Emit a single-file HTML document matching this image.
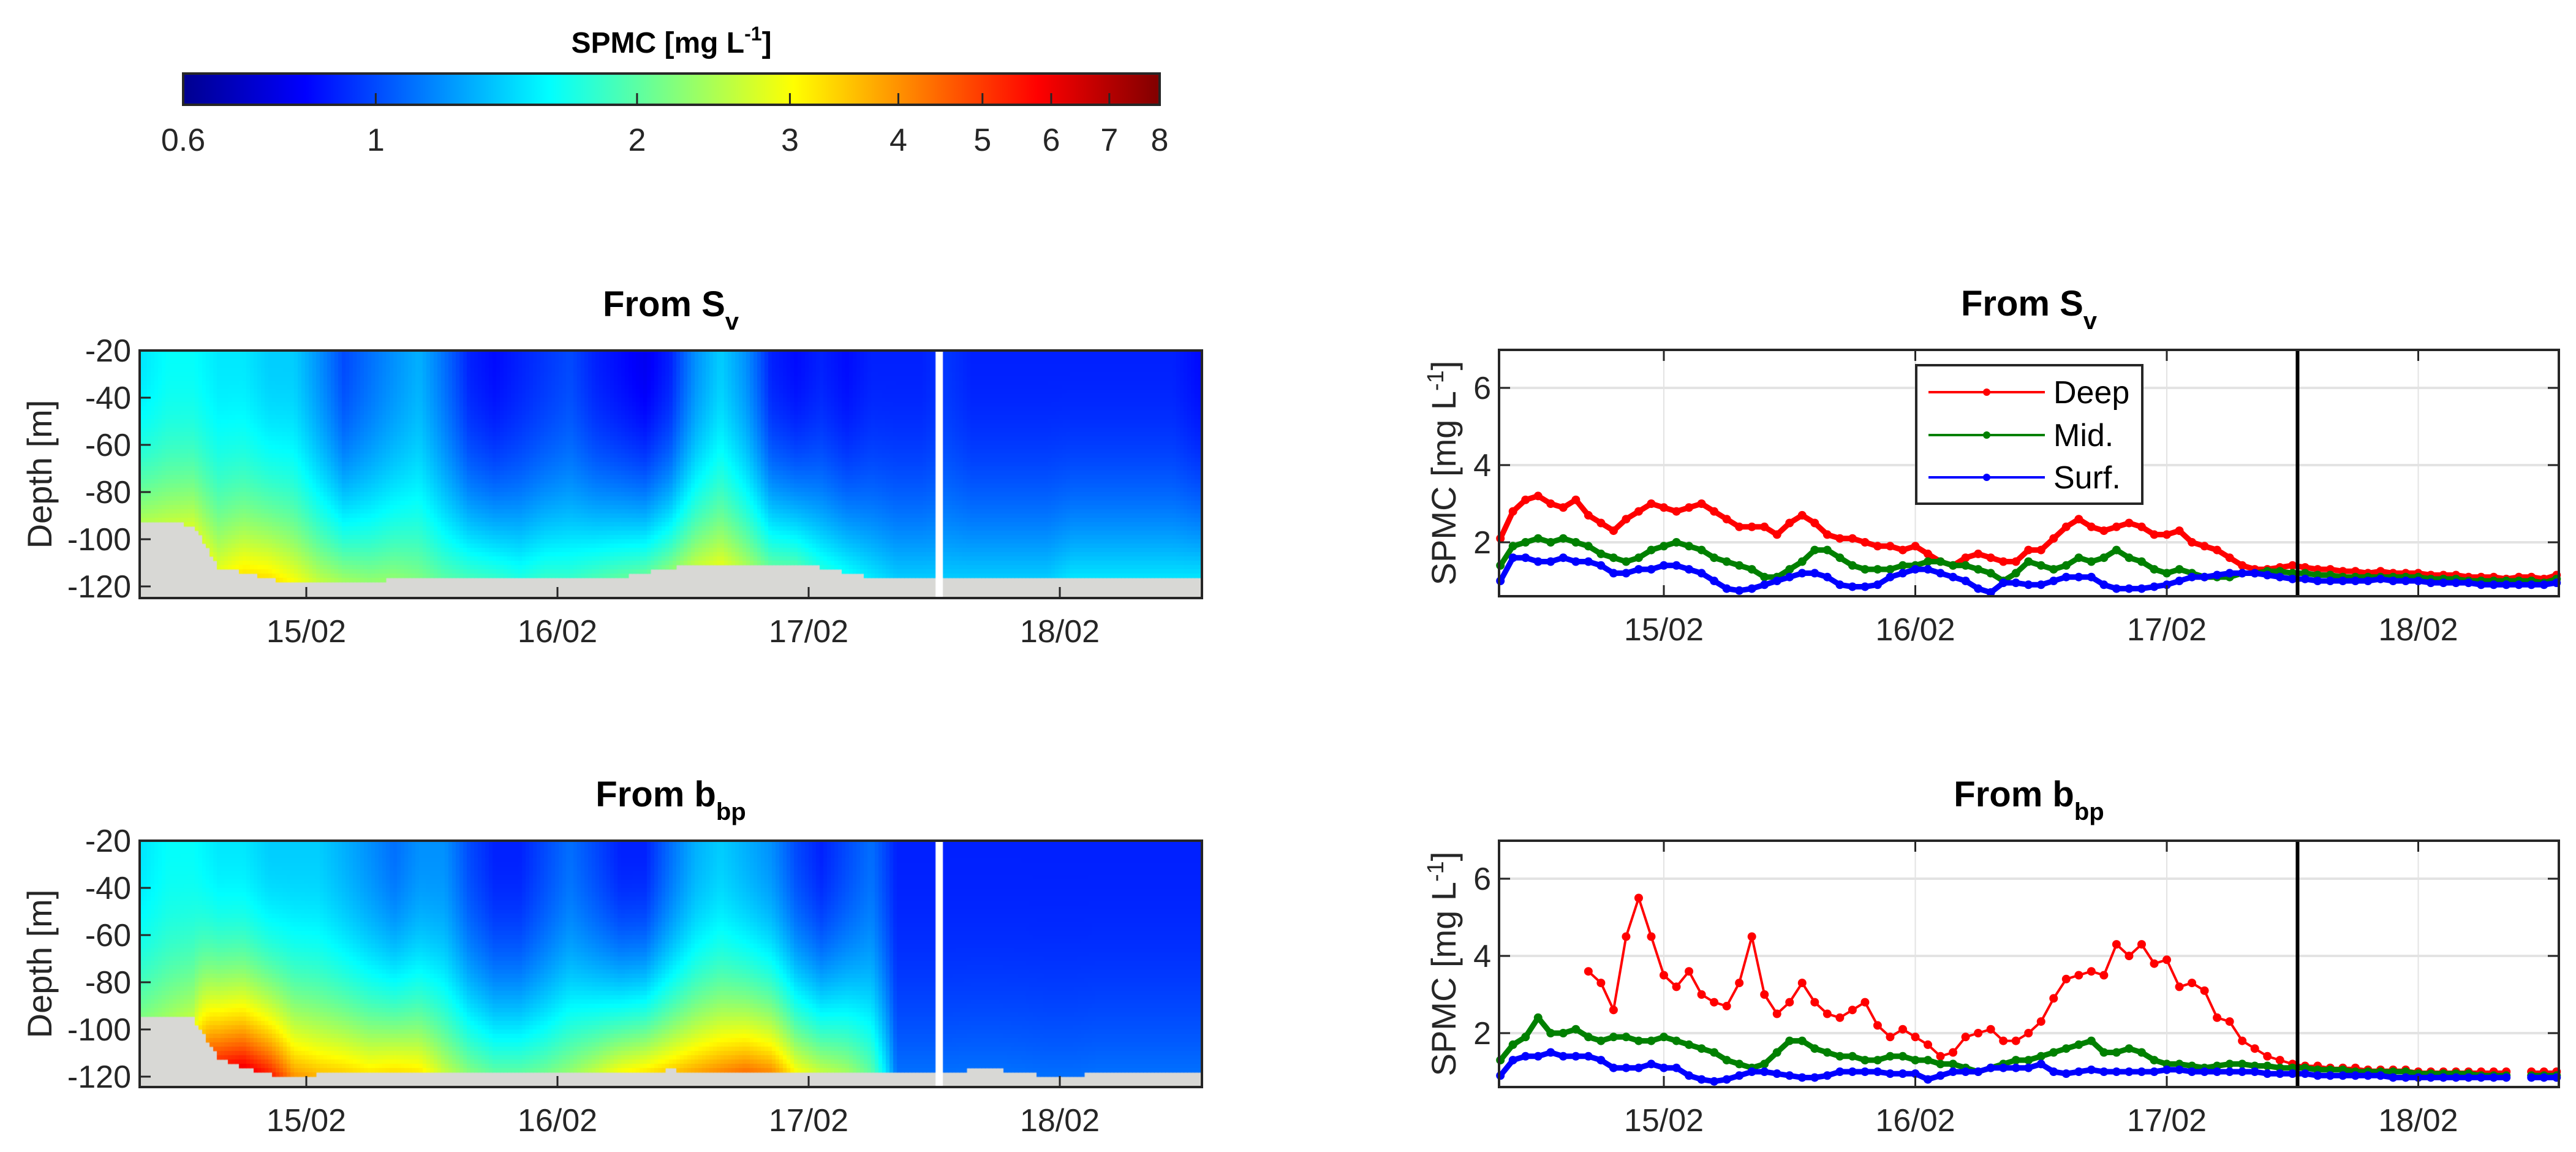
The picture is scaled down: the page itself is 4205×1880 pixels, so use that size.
<!DOCTYPE html>
<html><head><meta charset="utf-8">
<style>
html,body{margin:0;padding:0;background:#fff;}
#wrap{position:relative;width:4205px;height:1880px;overflow:hidden;font-family:"Liberation Sans",Arial,sans-serif;}
canvas{position:absolute;}
svg{position:absolute;left:0;top:0;}
</style></head>
<body>
<div id="wrap">
<canvas id="hm1" width="1734" height="404" style="left:228px;top:572px"></canvas>
<canvas id="hm2" width="1734" height="402" style="left:228px;top:1372px"></canvas>
<svg id="svg" width="4205" height="1880" xmlns="http://www.w3.org/2000/svg">
<defs><linearGradient id="jet" x1="0" x2="1" y1="0" y2="0">
<stop offset="0" stop-color="#00008f"/><stop offset="0.125" stop-color="#0000ff"/><stop offset="0.375" stop-color="#00ffff"/><stop offset="0.625" stop-color="#ffff00"/><stop offset="0.875" stop-color="#ff0000"/><stop offset="1" stop-color="#800000"/></linearGradient></defs>
</svg>
</div>
<script>
// ---------- data ----------
const cbTicks=[0.6,1,2,3,4,5,6,7,8];
const dayTicks=[15,16,17,18];
const dayLabels=["15/02","16/02","17/02","18/02"];
const depthTicks=[-20,-40,-60,-80,-100,-120];
const spmcTicks=[2,4,6];
const lineT0=14.35, lineDt=0.05;
const svDeep=[2.1,2.8,3.1,3.2,3.0,2.9,3.1,2.7,2.5,2.3,2.6,2.8,3.0,2.9,2.8,2.9,3.0,2.8,2.6,2.4,2.4,2.4,2.2,2.5,2.7,2.5,2.2,2.1,2.1,2.0,1.9,1.9,1.8,1.9,1.7,1.5,1.4,1.6,1.7,1.6,1.5,1.5,1.8,1.8,2.1,2.4,2.6,2.4,2.3,2.4,2.5,2.4,2.2,2.2,2.3,2.0,1.9,1.8,1.6,1.4,1.3,1.3,1.35,1.4,1.35,1.3,1.3,1.25,1.25,1.2,1.25,1.2,1.2,1.2,1.15,1.15,1.15,1.1,1.1,1.1,1.05,1.1,1.1,1.05,1.15];
const svMid=[1.4,1.9,2.0,2.1,2.0,2.1,2.0,1.9,1.7,1.6,1.5,1.6,1.8,1.9,2.0,1.9,1.8,1.6,1.5,1.4,1.3,1.1,1.1,1.3,1.5,1.8,1.8,1.6,1.4,1.3,1.3,1.3,1.4,1.4,1.5,1.5,1.4,1.4,1.3,1.2,1.0,1.2,1.5,1.4,1.3,1.4,1.6,1.5,1.6,1.8,1.6,1.5,1.3,1.2,1.3,1.2,1.1,1.1,1.1,1.2,1.2,1.25,1.25,1.2,1.2,1.15,1.15,1.1,1.1,1.1,1.1,1.1,1.1,1.1,1.05,1.05,1.05,1.0,1.0,1.0,1.0,1.0,1.0,0.95,1.05];
const svSurf=[1.0,1.6,1.6,1.5,1.5,1.6,1.5,1.5,1.4,1.2,1.2,1.3,1.3,1.4,1.4,1.3,1.2,1.0,0.8,0.75,0.8,0.9,1.0,1.1,1.2,1.2,1.1,0.9,0.85,0.85,0.9,1.1,1.2,1.3,1.3,1.2,1.1,1.0,0.8,0.7,0.95,0.95,0.9,0.9,1.0,1.1,1.1,1.1,0.9,0.8,0.8,0.8,0.85,0.9,1.0,1.1,1.1,1.15,1.2,1.2,1.2,1.15,1.1,1.05,1.05,1.0,1.0,1.0,1.0,1.0,1.05,1.0,1.0,1.0,0.95,0.95,0.95,0.95,0.9,0.9,0.9,0.9,0.9,0.9,0.95];
const bbpDeep=[null,null,null,null,null,null,null,3.6,3.3,2.6,4.5,5.5,4.5,3.5,3.2,3.6,3.0,2.8,2.7,3.3,4.5,3.0,2.5,2.8,3.3,2.8,2.5,2.4,2.6,2.8,2.2,1.9,2.1,1.9,1.7,1.4,1.5,1.9,2.0,2.1,1.8,1.8,2.0,2.3,2.9,3.4,3.5,3.6,3.5,4.3,4.0,4.3,3.8,3.9,3.2,3.3,3.1,2.4,2.3,1.8,1.6,1.4,1.3,1.2,1.15,1.15,1.1,1.1,1.1,1.05,1.05,1.05,1.05,1.0,1.0,1.0,1.0,1.0,1.0,1.0,1.0,null,1.0,1.0,1.0];
const bbpMid=[1.3,1.7,1.9,2.4,2.0,2.0,2.1,1.9,1.8,1.9,1.9,1.8,1.8,1.9,1.8,1.7,1.6,1.5,1.3,1.2,1.1,1.2,1.5,1.8,1.8,1.6,1.5,1.4,1.4,1.3,1.3,1.4,1.4,1.3,1.3,1.2,1.2,1.1,1.0,1.1,1.2,1.3,1.3,1.4,1.5,1.6,1.7,1.8,1.5,1.5,1.6,1.5,1.3,1.2,1.2,1.15,1.1,1.15,1.2,1.2,1.15,1.15,1.1,1.1,1.1,1.05,1.05,1.05,1.0,1.0,1.0,1.0,1.0,0.95,0.95,0.95,0.95,0.95,0.9,0.9,0.9,null,0.9,0.9,0.9];
const bbpSurf=[0.9,1.3,1.4,1.4,1.5,1.4,1.4,1.4,1.3,1.1,1.1,1.1,1.2,1.1,1.1,0.9,0.8,0.75,0.8,0.9,1.0,1.0,0.95,0.9,0.85,0.85,0.9,1.0,1.0,1.0,1.0,0.95,0.95,0.95,0.8,0.9,1.0,1.0,1.0,1.1,1.1,1.1,1.1,1.2,1.0,0.95,1.0,1.05,1.0,1.0,1.0,1.0,1.0,1.05,1.05,1.0,1.0,1.0,1.0,1.0,1.0,0.95,0.95,0.95,0.95,0.9,0.9,0.9,0.9,0.9,0.9,0.85,0.85,0.85,0.85,0.85,0.85,0.85,0.85,0.85,0.85,null,0.85,0.85,0.85];
// heatmap column data (every 0.1 day from 14.35)
const hmT0=14.35, hmDt=0.1;
const svTop=[1.5,1.6,1.6,1.5,1.5,1.4,1.4,1.2,1.0,1.1,1.2,1.3,1.1,0.9,0.85,0.9,0.95,1.0,0.9,0.85,0.8,0.9,1.2,1.4,1.2,0.9,0.85,0.9,0.85,0.9,0.9,0.9,0.95,0.9,0.9,0.9,0.9,0.9,0.9,0.9,0.9,0.9,0.85];
const svBot=[2.5,2.6,2.7,2.8,3.2,3.3,3.0,2.6,2.4,2.3,2.3,2.2,2.0,1.9,1.8,1.7,1.8,1.8,1.9,2.0,2.0,2.2,2.6,2.8,2.4,2.0,1.9,1.7,1.6,1.5,1.4,1.4,1.4,1.4,1.4,1.4,1.4,1.5,1.5,1.5,1.5,1.5,1.5];
const svBed=[-93,-93,-94,-112,-114,-117,-118,-118,-118,-118,-117,-117,-117,-117,-116,-116,-116,-116,-116,-116,-114,-112,-111,-110,-110,-111,-110,-112,-114,-116,-117,-117,-117,-117,-117,-117,-117,-117,-117,-117,-117,-117,-117];
const bbpTop=[1.5,1.6,1.6,1.5,1.5,1.4,1.4,1.4,1.3,1.2,1.1,1.2,1.2,1.0,0.9,0.9,1.0,1.1,1.0,0.9,0.9,1.1,1.3,1.4,1.3,1.2,1.0,0.9,1.0,1.1,0.9,0.9,0.9,0.9,0.9,0.9,0.9,0.9,0.9,0.9,0.9,0.9,0.9];
const bbpBot=[2.2,2.4,2.6,5.0,6.0,5.5,4.0,3.6,3.4,3.2,3.3,3.2,2.6,2.2,2.0,2.0,2.1,2.3,2.6,3.0,3.2,3.4,3.8,4.2,4.5,4.2,3.0,2.6,2.4,2.0,1.1,1.1,1.1,1.1,1.1,1.1,1.1,1.1,1.1,1.1,1.1,1.1,1.1];
const bbpBed=[-95,-95,-95,-112,-116,-119,-120,-119,-118,-118,-118,-118,-118,-118,-118,-118,-118,-118,-118,-118,-118,-117,-118,-119,-119,-119,-118,-118,-118,-118,-118,-118,-118,-117,-117,-118,-120,-120,-118,-118,-118,-118,-118];
const gapDay=17.52;

// ---------- helpers ----------
const NS="http://www.w3.org/2000/svg";
const svg=document.getElementById('svg');
const TF=52, TTL=58;
function mk(tag,attrs,parent){const e=document.createElementNS(NS,tag);for(const k in attrs)e.setAttribute(k,attrs[k]);(parent||svg).appendChild(e);return e;}
function jet(f){f=Math.max(0,Math.min(1,f));const r=Math.max(0,Math.min(1,1.5-Math.abs(4*f-3))),g=Math.max(0,Math.min(1,1.5-Math.abs(4*f-2))),b=Math.max(0,Math.min(1,1.5-Math.abs(4*f-1)));return `rgb(${Math.round(r*255)},${Math.round(g*255)},${Math.round(b*255)})`;}
const LMIN=Math.log10(0.6),LMAX=Math.log10(8);
function cfrac(v){return (Math.log10(v)-LMIN)/(LMAX-LMIN);}
const xL=d=>500+(d-15)*410;
const xR=d=>2716+(d-15)*410.5;
const depthY=(d,top)=>top+(-20-d)*3.85;
const spmcY=(v,off)=>1011+off-63*v;
function interp(arr,t){const p=(t-hmT0)/hmDt;const i=Math.max(0,Math.min(arr.length-1,Math.floor(p)));const j=Math.min(arr.length-1,i+1);const f=Math.max(0,Math.min(1,p-i));return arr[i]*(1-f)+arr[j]*f;}

// ---------- colorbar ----------
const cbX0=299,cbX1=1893;
mk('rect',{x:cbX0,y:120,width:cbX1-cbX0,height:51,fill:'url(#jet)',stroke:'#262626','stroke-width':4,});
cbTicks.forEach(v=>{const x=cbX0+cfrac(v)*(cbX1-cbX0);
 mk('line',{x1:x,x2:x,y1:152,y2:170,stroke:'#262626','stroke-width':3});
 const t=mk('text',{x:x,y:246,'font-size':TF,'text-anchor':'middle',fill:'#262626'});t.textContent=v;
 
 
});
{const t=mk('text',{x:1096,y:86,'font-size':48,'font-weight':'bold','text-anchor':'middle',});
 t.innerHTML='SPMC [mg L<tspan dy="-20" font-size="32">-1</tspan><tspan dy="20">]</tspan>';}

// ---------- heatmaps ----------
function drawHeat(id,top,bot,bed){
 const cv=document.getElementById(id),ctx=cv.getContext('2d');
 ctx.fillStyle='#d8d8d5';ctx.fillRect(0,0,cv.width,cv.height);
 const cw=6,ch=7;
 for(let px=0;px<cv.width;px+=cw){
  const day=15+(228+px+cw/2-500)/410;
  const tp=interp(top,day),bt=interp(bot,day),bd=interp(bed,day);
  const ybed=(-20-bd)*3.85;
  for(let py=0;py<cv.height;py+=ch){
   if(py+ch/2>ybed)break;
   const f=(py+ch/2)/ybed;
   const v=tp*Math.pow(bt/tp,Math.pow(f,2.2));
   ctx.fillStyle=jet(cfrac(v));ctx.fillRect(px,py,cw+0.5,ch+0.5);
  }
 }
 ctx.fillStyle='#fff';ctx.fillRect(xL(gapDay)-228-6,0,12,cv.height);
}
drawHeat('hm1',svTop,svBot,svBed);
drawHeat('hm2',bbpTop,bbpBot,bbpBed);

function leftAxes(top,bottom,title,sub){
 mk('rect',{x:228,y:top,width:1734,height:bottom-top,fill:'none',stroke:'#262626','stroke-width':4,});
 depthTicks.forEach(d=>{const y=depthY(d,top);
  mk('line',{x1:228,x2:246,y1:y,y2:y,stroke:'#262626','stroke-width':3});
  const t=mk('text',{x:214,y:y+18,'font-size':TF,'text-anchor':'end',fill:'#262626'});t.textContent=d;
  
  
 });
 dayTicks.forEach((d,i)=>{const x=xL(d);
  mk('line',{x1:x,x2:x,y1:bottom,y2:bottom-18,stroke:'#262626','stroke-width':3});
  const t=mk('text',{x:x,y:bottom+72,'font-size':TF,'text-anchor':'middle',fill:'#262626'});t.textContent=dayLabels[i];
  
  
 });
 const yl=mk('text',{x:0,y:0,'font-size':56,'text-anchor':'middle',fill:'#262626',transform:`translate(84,${(top+bottom)/2}) rotate(-90)`,});yl.textContent='Depth [m]';
 const tt=mk('text',{x:1095,y:top-56,'font-size':TTL,'font-weight':'bold','text-anchor':'middle',});
 tt.innerHTML=title+'<tspan dy="22" font-size="40">'+sub+'</tspan>';
}
leftAxes(572,976,'From S','v');
leftAxes(1372,1774,'From b','bp');

// ---------- line panels ----------
function rightPanel(off,title,sub,deep,mid,surf,legend){
 const top=571+off,bottom=973+off;
 const g=mk('g',{});
 dayTicks.forEach(d=>mk('line',{x1:xR(d),x2:xR(d),y1:top,y2:bottom,stroke:'#e3e3e3','stroke-width':2},g));
 spmcTicks.forEach(v=>mk('line',{x1:2447,x2:4177,y1:spmcY(v,off),y2:spmcY(v,off),stroke:'#e3e3e3','stroke-width':4},g));
 const series=[[deep,'#ff0000','deep'],[mid,'#008000','mid'],[surf,'#0000ff','surf']];
 series.forEach(([arr,col,nm])=>{
  let d='',pen=false;
  arr.forEach((v,i)=>{if(v==null){pen=false;return;}const x=xR(lineT0+i*lineDt),y=spmcY(v,off);d+=(pen?'L':'M')+x.toFixed(1)+' '+y.toFixed(1);pen=true;});
  const p=mk('path',{d:d,fill:'none',stroke:col,'stroke-width':(nm==='deep'&&off>0)?4:9,'stroke-linejoin':'round'},g);
  
  
  arr.forEach((v,i)=>{if(v==null)return;
   const c=mk('circle',{cx:xR(lineT0+i*lineDt),cy:spmcY(v,off),r:7,fill:col},g);
   
   
  });
 });
 mk('line',{x1:xR(gapDay),x2:xR(gapDay),y1:top,y2:bottom,stroke:'#000','stroke-width':6,});
 mk('rect',{x:2447,y:top,width:1730,height:bottom-top,fill:'none',stroke:'#262626','stroke-width':4,});
 spmcTicks.forEach(v=>{const y=spmcY(v,off);
  mk('line',{x1:2447,x2:2465,y1:y,y2:y,stroke:'#262626','stroke-width':3});
  mk('line',{x1:4159,x2:4177,y1:y,y2:y,stroke:'#262626','stroke-width':3});
  const t=mk('text',{x:2434,y:y+18,'font-size':TF,'text-anchor':'end',fill:'#262626'});t.textContent=v;
  
  
 });
 dayTicks.forEach((d,i)=>{const x=xR(d);
  mk('line',{x1:x,x2:x,y1:bottom,y2:bottom-18,stroke:'#262626','stroke-width':3});
  mk('line',{x1:x,x2:x,y1:top,y2:top+18,stroke:'#262626','stroke-width':3});
  const t=mk('text',{x:x,y:bottom+72,'font-size':TF,'text-anchor':'middle',fill:'#262626'});t.textContent=dayLabels[i];
  
  
 });
 const yl=mk('text',{x:0,y:0,'font-size':56,'text-anchor':'middle',fill:'#262626',transform:`translate(2376,${(top+bottom)/2}) rotate(-90)`,});
 yl.innerHTML='SPMC [mg L<tspan dy="-20" font-size="38">-1</tspan><tspan dy="20">]</tspan>';
 const tt=mk('text',{x:3312,y:top-56,'font-size':TTL,'font-weight':'bold','text-anchor':'middle',});
 tt.innerHTML=title+'<tspan dy="22" font-size="40">'+sub+'</tspan>';
 if(legend){
  const lg=mk('g',{});
  mk('rect',{x:3128,y:596,width:369,height:226,fill:'#fff',stroke:'#262626','stroke-width':4},lg);
  [['Deep','#ff0000',640],['Mid.','#008000',710],['Surf.','#0000ff',779]].forEach(([n,c,y])=>{
   const e=mk('g',{},lg);
   
   
   mk('line',{x1:3148,x2:3338,y1:y,y2:y,stroke:c,'stroke-width':4},e);
   mk('circle',{cx:3243,cy:y,r:6,fill:c},e);
   const t=mk('text',{x:3352,y:y+18,'font-size':TF,fill:'#000'},e);t.textContent=n;
  });
 }
}
rightPanel(0,'From S','v',svDeep,svMid,svSurf,true);
rightPanel(801,'From b','bp',bbpDeep,bbpMid,bbpSurf,false);
</script>
</body></html>
